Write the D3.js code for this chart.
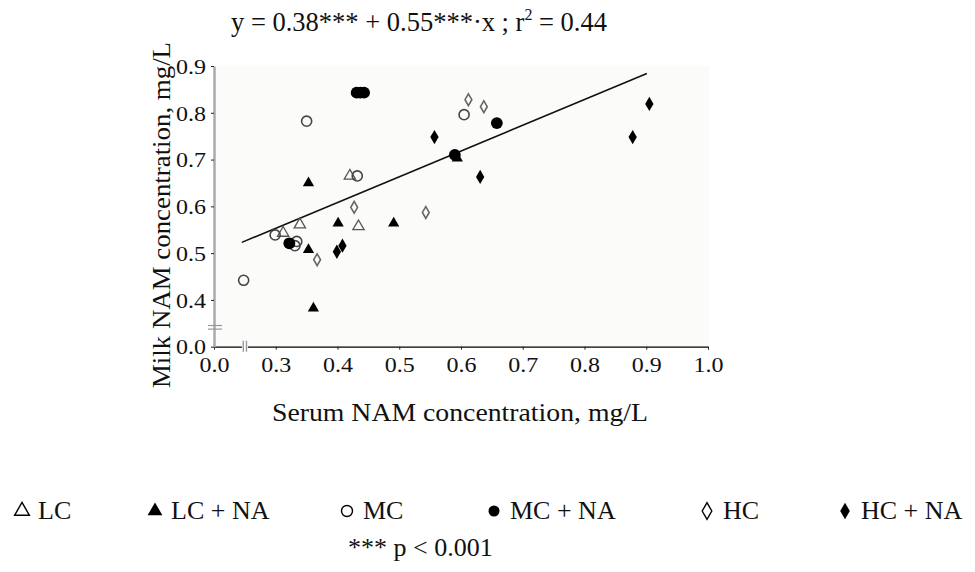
<!DOCTYPE html>
<html>
<head>
<meta charset="utf-8">
<script src="https://cdn.jsdelivr.net/npm/d3@7"></script>
<style>
  html, body { margin: 0; padding: 0; background: #ffffff; }
  svg { display: block; font-family: "Liberation Serif", "Times New Roman", serif; }
</style>
</head>
<body>
<svg id="chart" width="975" height="572"></svg>
<script>
const serif = "'Liberation Serif', 'Times New Roman', serif";

// axis ticks (the axes are broken: first tick is printed as 0.0)
const xTickValues = [0.2, 0.3, 0.4, 0.5, 0.6, 0.7, 0.8, 0.9, 1.0];
const xTickLabels = ["0.0", "0.3", "0.4", "0.5", "0.6", "0.7", "0.8", "0.9", "1.0"];
const yTickValues = [0.3, 0.4, 0.5, 0.6, 0.7, 0.8, 0.9];
const yTickLabels = ["0.0", "0.4", "0.5", "0.6", "0.7", "0.8", "0.9"];

// [serum, milk] per treatment group
const lcPoints = [[0.420, 0.665], [0.312, 0.543], [0.339, 0.561], [0.434, 0.557]];
const lcnaPoints = [[0.353, 0.650], [0.361, 0.382], [0.401, 0.564], [0.491, 0.564], [0.353, 0.507], [0.594, 0.703]];
const mcPoints = [[0.350, 0.782], [0.432, 0.665], [0.248, 0.442], [0.299, 0.539], [0.334, 0.525], [0.331, 0.516], [0.605, 0.796]];
const mcnaPoints = [[0.431, 0.843], [0.437, 0.843], [0.443, 0.843], [0.322, 0.521], [0.590, 0.710], [0.658, 0.778]];
const hcPoints = [[0.427, 0.598], [0.367, 0.486], [0.543, 0.587], [0.612, 0.828], [0.637, 0.813]];
const hcnaPoints = [[0.399, 0.503], [0.408, 0.516], [0.557, 0.748], [0.631, 0.663], [0.905, 0.819], [0.878, 0.748]];

// fitted line end points
const fitX = [0.245, 0.901];
const fitY = [0.523, 0.884];

const legendLabels = ["LC", "LC + NA", "MC", "MC + NA", "HC", "HC + NA"];
const legendX = [22, 155, 347, 494, 707, 845];

const titleText = "y = 0.38*** + 0.55***·x ; r";
const titleTail = " = 0.44";
const xTitle = "Serum NAM concentration, mg/L";
const yTitle = "Milk NAM concentration, mg/L";
const footText = "*** p < 0.001";

const svg = d3.select("#chart");

const x = d3.scaleLinear().domain([0.2, 1.0]).range([214, 708]);
const y = d3.scaleLinear().domain([0.3, 0.9]).range([346.7, 66]);

// plot background
svg.append("rect")
    .attr("x", x(0.2))
    .attr("y", y(0.9))
    .attr("width", x(1.0) - x(0.2) + 1)
    .attr("height", y(0.3) - y(0.9))
    .attr("fill", "#fbfbf9");

// x axis
const xAxis = svg.append("g")
    .attr("transform", `translate(0, ${y(0.3)})`)
    .call(d3.axisBottom(x)
        .tickValues(xTickValues)
        .tickFormat((d, i) => xTickLabels[i])
        .tickSize(3)
        .tickSizeOuter(0)
        .tickPadding(7))
    .attr("font-family", serif);
xAxis.select(".domain").attr("stroke", "#000").attr("stroke-width", 1.2);
xAxis.selectAll(".tick line").attr("stroke", "#222");
xAxis.selectAll(".tick text")
    .style("font-family", serif)
    .attr("font-size", 22)
    .attr("fill", "#111")
    .attr("textLength", 30)
    .attr("lengthAdjust", "spacingAndGlyphs");

// y axis
const yAxis = svg.append("g")
    .attr("transform", `translate(${x(0.2)}, 0)`)
    .call(d3.axisLeft(y)
        .tickValues(yTickValues)
        .tickFormat((d, i) => yTickLabels[i])
        .tickSize(3)
        .tickSizeOuter(0)
        .tickPadding(5))
    .attr("font-family", serif);
yAxis.select(".domain").attr("stroke", "#aaa").attr("stroke-width", 2.5);
yAxis.selectAll(".tick line").attr("stroke", "#222");
yAxis.selectAll(".tick text")
    .style("font-family", serif)
    .attr("font-size", 22)
    .attr("fill", "#111")
    .attr("dy", "0.33em")
    .attr("textLength", 30)
    .attr("lengthAdjust", "spacingAndGlyphs");

// axis break marks
const yBreak = (y(0.3) + y(0.4)) / 2 + 4;
[-1.8, 1.8].forEach(off => {
    svg.append("line")
        .attr("x1", x(0.2) - 6).attr("x2", x(0.2) + 8)
        .attr("y1", yBreak + off).attr("y2", yBreak + off)
        .attr("stroke", "#999").attr("stroke-width", 1.2);
});
const xBreak = (x(0.2) + x(0.3)) / 2;
svg.append("rect")
    .attr("x", xBreak - 3).attr("y", y(0.3) - 5)
    .attr("width", 6).attr("height", 11)
    .attr("fill", "#ffffff");
[-1.6, 1.6].forEach(off => {
    svg.append("line")
        .attr("x1", xBreak + off).attr("x2", xBreak + off)
        .attr("y1", y(0.3) - 6).attr("y2", y(0.3) + 5)
        .attr("stroke", "#999").attr("stroke-width", 1.4);
});

// regression line
svg.append("line")
    .attr("x1", x(fitX[0])).attr("y1", y(fitY[0]))
    .attr("x2", x(fitX[1])).attr("y2", y(fitY[1]))
    .attr("stroke", "#111")
    .attr("stroke-width", 1.6);

// marker styles per group
const groups = [
    {pts: lcPoints,   type: d3.symbolTriangle, size: 55, fill: "none",  stroke: "#555", sw: 1.3},
    {pts: lcnaPoints, type: d3.symbolTriangle, size: 55, fill: "#000",  stroke: "none", sw: 0},
    {pts: mcPoints,   type: d3.symbolCircle,   size: 80, fill: "none",  stroke: "#444", sw: 1.6},
    {pts: mcnaPoints, type: d3.symbolCircle,   size: 110, fill: "#000", stroke: "none", sw: 0},
    {pts: hcPoints,   type: d3.symbolDiamond,  size: 40, fill: "none",  stroke: "#666", sw: 1.6},
    {pts: hcnaPoints, type: d3.symbolDiamond,  size: 60, fill: "#000",  stroke: "none", sw: 0}
];

const pointLayer = svg.append("g");
groups.forEach(g => {
    pointLayer.selectAll(null)
        .data(g.pts)
        .enter()
        .append("path")
        .attr("d", d3.symbol().type(g.type).size(g.size))
        .attr("transform", d => `translate(${x(d[0])},${y(d[1])})`)
        .attr("fill", g.fill)
        .attr("stroke", g.stroke)
        .attr("stroke-width", g.sw);
});

// title (equation)
const title = svg.append("text")
    .attr("x", 231)
    .attr("y", 31)
    .attr("font-size", 26.5)
    .attr("fill", "#111");
title.append("tspan").text(titleText);
title.append("tspan").attr("font-size", 16).attr("dy", -11).text("2");
title.append("tspan").attr("dy", 11).text(titleTail);

// axis titles
svg.append("text")
    .attr("x", 460)
    .attr("y", 421)
    .attr("text-anchor", "middle")
    .attr("font-size", 25)
    .attr("fill", "#111")
    .attr("textLength", 376)
    .attr("lengthAdjust", "spacingAndGlyphs")
    .text(xTitle);

svg.append("text")
    .attr("transform", "translate(170, 215) rotate(-90)")
    .attr("text-anchor", "middle")
    .attr("font-size", 25)
    .attr("fill", "#111")
    .attr("textLength", 346)
    .attr("lengthAdjust", "spacingAndGlyphs")
    .text(yTitle);

// legend
const legend = svg.append("g");
legendLabels.forEach((label, i) => {
    const g = groups[i];
    legend.append("path")
        .attr("d", d3.symbol().type(g.type).size(g.type === d3.symbolDiamond ? 80 : 95))
        .attr("transform", `translate(${legendX[i]}, 511)`)
        .attr("fill", g.fill === "none" ? "none" : "#000")
        .attr("stroke", g.fill === "none" ? "#000" : "none")
        .attr("stroke-width", 1.4);
    legend.append("text")
        .attr("x", legendX[i] + 16)
        .attr("y", 519)
        .attr("font-size", 26)
        .attr("fill", "#111")
        .text(label);
});

svg.append("text")
    .attr("x", 348)
    .attr("y", 556)
    .attr("font-size", 26)
    .attr("fill", "#111")
    .text(footText);
</script>
</body>
</html>
